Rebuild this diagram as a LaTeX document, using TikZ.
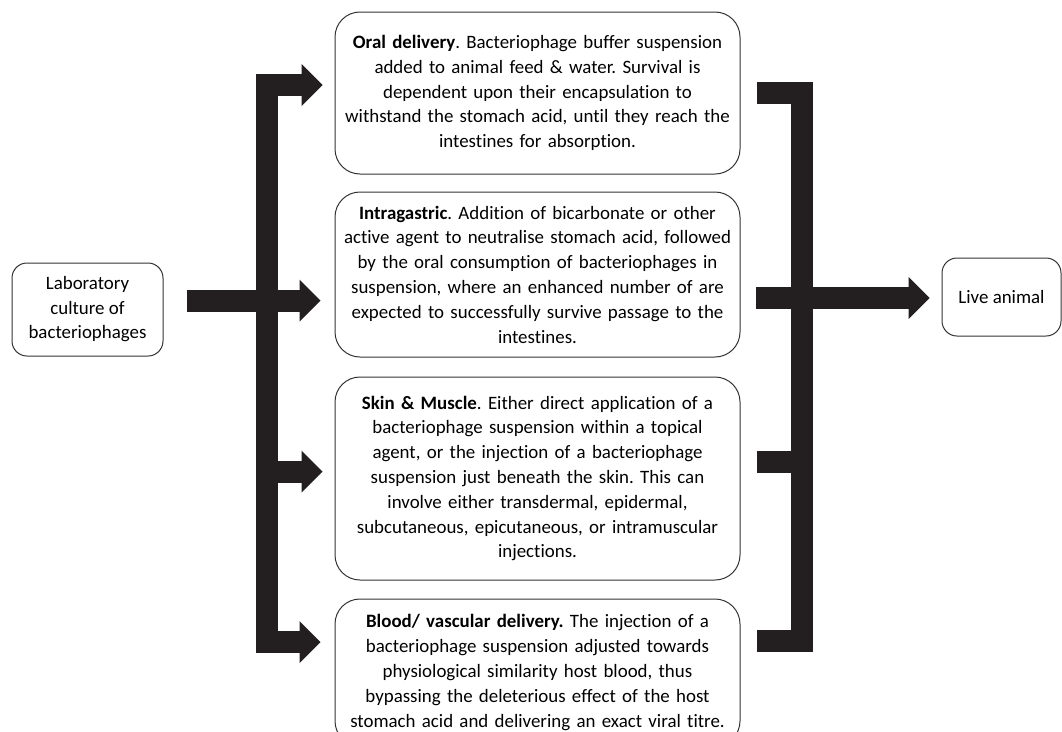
\documentclass[tikz,border=0pt]{standalone}
\usepackage{fontspec}
\setmainfont{Carlito}[Ligatures=NoCommon]
\usetikzlibrary{arrows.meta}
\definecolor{tinta}{HTML}{231f20}
\definecolor{borde}{HTML}{333333}
\frenchspacing

\begin{document}
\begin{tikzpicture}[x=1pt,y=-1pt,line width=1pt,
  caja/.style={draw=borde,rounded corners=25pt,align=center,inner xsep=0pt,
    text width=405pt,font=\fontsize{18.9}{24.8}\selectfont},
  cajita/.style={draw=borde,rounded corners=15pt,align=center,inner sep=0pt,
    font=\fontsize{18.9}{24.5}\selectfont},
  barra/.style={draw=tinta,line width=22pt,line join=miter,line cap=butt},
  punta/.tip={Triangle[length=21pt,width=42pt,line width=0pt]},
  flecha/.style={barra,-punta}]

  \useasboundingbox (0,0) rectangle (1062,731);

  \node[cajita,minimum width=151pt,minimum height=93pt] (lab) at (87.5,309.5)
    {Laboratory\\culture of\\bacteriophages};
  \node[cajita,minimum width=119pt,minimum height=78pt] (vivo) at (1001.5,297)
    {Live animal};

  \node[caja,minimum height=162pt] (oral) at (537.5,93)
    {\textbf{Oral delivery}. Bacteriophage buffer suspension\\
     added to animal feed \& water. Survival is\\
     dependent upon their encapsulation to\\
     withstand the stomach acid, until they reach the\\
     intestines for absorption.\\[4pt]};
  \node[caja,minimum height=165pt] (intra) at (537.5,274.5)
    {\textbf{Intragastric}. Addition of bicarbonate or other\\
     active agent to neutralise stomach acid, followed\\
     by the oral consumption of bacteriophages in\\
     suspension, where an enhanced number of are\\
     expected to successfully survive passage to the\\
     intestines.};
  \node[caja,minimum height=203pt] (piel) at (537.5,478.5)
    {\textbf{Skin \& Muscle}. Either direct application of a\\
     bacteriophage suspension within a topical\\
     agent, or the injection of a bacteriophage\\
     suspension just beneath the skin. This can\\
     involve either transdermal, epidermal,\\
     subcutaneous, epicutaneous, or intramuscular\\
     injections.};
  \node[caja,minimum height=147pt] (sangre) at (537.5,672.5)
    {\textbf{Blood/ vascular delivery.} The injection of a\\
     bacteriophage suspension adjusted towards\\
     physiological similarity host blood, thus\\
     bypassing the deleterious effect of the host\\
     stomach acid and delivering an exact viral titre.};

  % left fork
  \coordinate (ramaA) at (266.5,85);
  \coordinate (ramaB) at (266.5,300.5);
  \coordinate (ramaC) at (266.5,471.5);
  \coordinate (ramaD) at (266.5,642);
  % right bracket
  \coordinate (cierreA) at (801.5,93);
  \coordinate (cierreB) at (801.5,298);
  \coordinate (cierreC) at (801.5,461.5);
  \coordinate (cierreD) at (801.5,640.5);

  \draw[barra,punta-punta,shorten <=12pt,shorten >=14pt]
    (ramaA -| oral.west) -- (ramaA) -- (ramaD) -- (ramaD -| sangre.west);
  \draw[flecha,shorten <=23pt,shorten >=14pt] (ramaB -| lab.east) -- (ramaB -| intra.west);
  \draw[flecha,shorten >=12pt] (ramaC) -- (ramaC -| piel.west);

  \draw[barra,shorten <=16pt,shorten >=16pt]
    (cierreA -| oral.east) -- (cierreA) -- (cierreD) -- (cierreD -| sangre.east);
  \draw[barra,shorten <=16pt] (cierreC -| piel.east) -- (cierreC);
  \draw[flecha,shorten <=15pt,shorten >=12pt] (cierreB -| intra.east) -- (cierreB -| vivo.west);

\end{tikzpicture}
\end{document}
